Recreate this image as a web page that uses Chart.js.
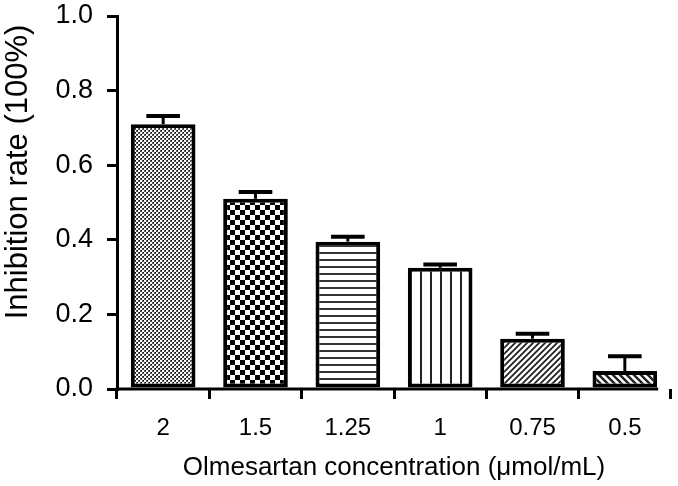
<!DOCTYPE html>
<html>
<head>
<meta charset="utf-8">
<script src="https://cdn.jsdelivr.net/npm/chart.js@4.4.1/dist/chart.umd.min.js"></script>
<style>
  html, body { margin: 0; padding: 0; background: #fff; }
  #wrap { width: 678px; height: 486px; }
</style>
</head>
<body>
<div id="wrap"><canvas id="c" width="678" height="486"></canvas></div>
<script>
// ---- data ----
const categories = ['2', '1.5', '1.25', '1', '0.75', '0.5'];
const inhibition = [0.71, 0.51, 0.395, 0.325, 0.135, 0.048];
const errors = [0.022, 0.018, 0.013, 0.009, 0.013, 0.04];
const yTickValues = [0.0, 0.2, 0.4, 0.6, 0.8, 1.0];
const xTitle = 'Olmesartan concentration (\u03bcmol/mL)';
const yTitle = 'Inhibition rate (100%)';

// ---- fill patterns ----
function tile(size, draw) {
  const c = document.createElement('canvas');
  c.width = size; c.height = size;
  const g = c.getContext('2d');
  g.fillStyle = '#fff'; g.fillRect(0, 0, size, size);
  draw(g, size);
  return document.createElement('canvas').getContext('2d').createPattern(c, 'repeat');
}
const patterns = [
  // fine grey checker
  tile(4, (g) => {
    g.fillStyle = '#555';
    g.fillRect(2, 0, 2, 2); g.fillRect(0, 2, 2, 2);
    g.fillStyle = '#000';
    g.fillRect(3, 0, 1, 1); g.fillRect(1, 2, 1, 1);
  }),
  // coarse checkerboard
  tile(10, (g) => {
    g.fillStyle = '#000';
    g.fillRect(0, 0, 5, 5); g.fillRect(5, 5, 5, 5);
  }),
  // horizontal lines
  tile(7, (g) => {
    g.fillStyle = '#333';
    g.fillRect(0, 0, 7, 2);
  }),
  // vertical lines
  tile(10, (g) => {
    g.fillStyle = '#222';
    g.fillRect(0, 0, 2, 10);
  }),
  // forward diagonal lines
  tile(6, (g, s) => {
    g.strokeStyle = '#222'; g.lineWidth = 1.8;
    g.beginPath();
    g.moveTo(-1, s + 1); g.lineTo(s + 1, -1);
    g.moveTo(-1, 1); g.lineTo(1, -1);
    g.moveTo(s - 1, s + 1); g.lineTo(s + 1, s - 1);
    g.stroke();
  }),
  // back diagonal lines
  tile(7, (g, s) => {
    g.strokeStyle = '#222'; g.lineWidth = 2.4;
    g.beginPath();
    g.moveTo(-1, -1); g.lineTo(s + 1, s + 1);
    g.moveTo(s - 1, -1); g.lineTo(s + 1, 1);
    g.moveTo(-1, s - 1); g.lineTo(1, s + 1);
    g.stroke();
  })
];

// ---- plugins ----
const errorBarPlugin = {
  id: 'errorBars',
  afterDatasetsDraw(chart) {
    const ctx = chart.ctx;
    const meta = chart.getDatasetMeta(0);
    const y = chart.scales.y;
    ctx.save();
    ctx.strokeStyle = '#000';
    meta.data.forEach((el, i) => {
      const top = el.y;
      const yErr = y.getPixelForValue(inhibition[i] + errors[i]);
      const half = el.width * 0.26;
      ctx.lineWidth = 3;
      ctx.beginPath(); ctx.moveTo(el.x, top); ctx.lineTo(el.x, yErr); ctx.stroke();
      ctx.lineWidth = 4;
      ctx.beginPath(); ctx.moveTo(el.x - half, yErr); ctx.lineTo(el.x + half, yErr); ctx.stroke();
    });
    // x axis baseline ending at last bar's right edge
    const last = meta.data[meta.data.length - 1];
    const a = chart.chartArea;
    ctx.lineWidth = 3;
    ctx.beginPath();
    ctx.moveTo(a.left - 1.5, a.bottom);
    ctx.lineTo(last.x + last.width / 2 + 1, a.bottom);
    ctx.stroke();
    ctx.restore();
  }
};

const FONT = "'Liberation Sans', Arial, Helvetica, sans-serif";

new Chart(document.getElementById('c'), {
  type: 'bar',
  data: {
    labels: categories,
    datasets: [{
      data: inhibition,
      backgroundColor: patterns,
      borderColor: '#000',
      borderWidth: 4,
      borderSkipped: false,
      barPercentage: 0.7,
      categoryPercentage: 1.0
    }]
  },
  options: {
    responsive: false,
    animation: false,
    layout: { padding: { left: 0, top: 16, right: 7, bottom: 0 } },
    plugins: { legend: { display: false }, tooltip: { enabled: false } },
    scales: {
      x: {
        offset: true,
        afterFit(scale) { scale.height = 97; scale.paddingLeft = 0; scale.paddingRight = 0; },
        grid: { drawOnChartArea: false, drawTicks: true, tickLength: 10, color: '#000', lineWidth: 3 },
        border: { display: false },
        ticks: { color: '#000', font: { family: FONT, size: 24 }, padding: 15, maxRotation: 0 },
        title: { display: true, text: xTitle, color: '#000', font: { family: FONT, size: 26 }, padding: { top: 2, bottom: 3 } }
      },
      y: {
        min: 0, max: 1,
        afterFit(scale) { scale.width = 117; scale.paddingTop = 0; scale.paddingBottom = 0; },
        afterBuildTicks(scale) { scale.ticks = yTickValues.map(v => ({ value: v })); },
        grid: { drawOnChartArea: false, drawTicks: true, tickLength: 10, color: '#000', lineWidth: 3 },
        border: { display: true, color: '#000', width: 3 },
        ticks: { color: '#000', font: { family: FONT, size: 27 }, padding: 14, callback: (v) => Number(v).toFixed(1) },
        title: { display: true, text: yTitle + ' ', align: 'end', color: '#000', font: { family: FONT, size: 31 }, padding: { top: 0, bottom: 2 } }
      }
    }
  },
  plugins: [errorBarPlugin]
});
</script>
</body>
</html>
